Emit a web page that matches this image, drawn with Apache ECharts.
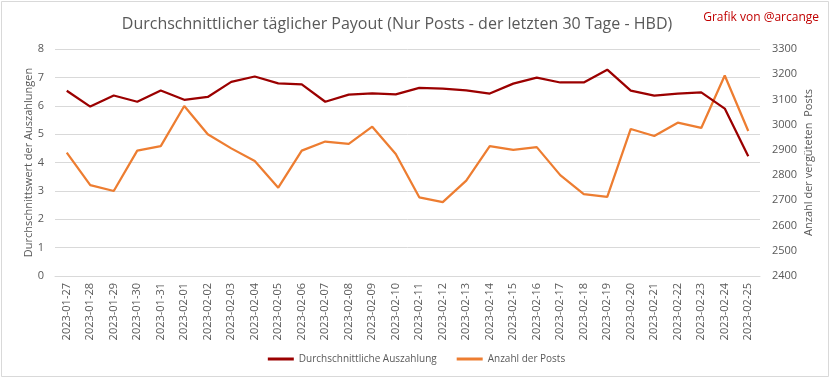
<!DOCTYPE html>
<html><head><meta charset="utf-8">
<script src="https://cdn.jsdelivr.net/npm/echarts@6/dist/echarts.min.js"></script>
<style>html,body{margin:0;padding:0;background:#fff}#c{width:833px;height:379px}</style>
</head><body><div id="c"></div>
<script>
const categories = ["2023-01-27","2023-01-28","2023-01-29","2023-01-30","2023-01-31","2023-02-01","2023-02-02","2023-02-03","2023-02-04","2023-02-05","2023-02-06","2023-02-07","2023-02-08","2023-02-09","2023-02-10","2023-02-11","2023-02-12","2023-02-13","2023-02-14","2023-02-15","2023-02-16","2023-02-17","2023-02-18","2023-02-19","2023-02-20","2023-02-21","2023-02-22","2023-02-23","2023-02-24","2023-02-25"];
const avgPayout = [6.53,5.97,6.36,6.14,6.54,6.21,6.31,6.84,7.03,6.79,6.75,6.14,6.39,6.44,6.40,6.63,6.60,6.54,6.43,6.78,6.99,6.82,6.82,7.27,6.53,6.36,6.43,6.47,5.90,4.22];
const postCount = [2889,2760,2737,2897,2915,3074,2962,2906,2856,2750,2897,2933,2924,2992,2884,2712,2693,2778,2915,2900,2911,2800,2725,2714,2983,2955,3008,2987,3195,2975];
const leftTicks = {min:0,max:8,interval:1};
const rightTicks = {min:2400,max:3300,interval:100};

const FONT = '"Open Sans", "Noto Sans", sans-serif';
const chart = echarts.init(document.getElementById('c'), null, {renderer:'canvas'});
chart.setOption({
  animation:false,
  backgroundColor:'#fff',
  textStyle:{fontFamily:FONT},
  title:[{
    text:'Durchschnittlicher täglicher Payout (Nur Posts - der letzten 30 Tage - HBD)',
    left:392, top:11, textAlign:'center',
    textStyle:{fontFamily:FONT,fontSize:16,fontWeight:'normal',color:'#595959'}
  },{
    text:'Grafik von @arcange',
    right:9, top:7,
    textStyle:{fontFamily:FONT,fontSize:12,fontWeight:'normal',color:'#c00000'}
  }],
  graphic:[{type:'rect',shape:{x:1.5,y:1.5,width:827,height:375},style:{fill:'none',stroke:'#d9d9d9',lineWidth:1},silent:true}],
  legend:{
    bottom:10, left:'center', itemGap:20, itemWidth:26, itemHeight:3, icon:'rect',
    textStyle:{fontFamily:FONT,fontSize:10,color:'#595959'},
    data:['Durchschnittliche Auszahlung','Anzahl der Posts']
  },
  grid:{left:55,right:73,top:49,bottom:103,containLabel:false},
  xAxis:{
    type:'category', data:categories, boundaryGap:true,
    axisLine:{show:true,lineStyle:{color:'#d9d9d9'}},
    axisTick:{show:false},
    axisLabel:{rotate:90,interval:0,fontSize:11,color:'#595959',margin:7,fontFamily:FONT}
  },
  yAxis:[{
    type:'value', min:leftTicks.min, max:leftTicks.max, interval:leftTicks.interval,
    name:'Durchschnittswert der Auszahlungen', nameLocation:'middle', nameGap:21, nameRotate:90,
    nameMoveOverlap:false,
    nameTextStyle:{fontSize:11,color:'#595959',fontFamily:FONT},
    axisLabel:{fontSize:11,color:'#595959',margin:11,fontFamily:FONT},
    axisLine:{show:false}, axisTick:{show:false},
    splitLine:{lineStyle:{color:'#d9d9d9',width:1}}
  },{
    type:'value', min:rightTicks.min, max:rightTicks.max, interval:rightTicks.interval,
    name:'Anzahl der vergüteten  Posts', nameLocation:'middle', nameGap:43, nameRotate:90,
    nameMoveOverlap:false,
    nameTextStyle:{fontSize:11,color:'#595959',fontFamily:FONT},
    axisLabel:{fontSize:11,color:'#595959',margin:12,fontFamily:FONT,formatter:function(v){return String(v);}},
    axisLine:{show:false}, axisTick:{show:false},
    splitLine:{show:false}
  }],
  series:[{
    name:'Durchschnittliche Auszahlung', type:'line', yAxisIndex:0, data:avgPayout,
    symbol:'none', lineStyle:{color:'#9b0000',width:2.25}, itemStyle:{color:'#9b0000'}, z:3
  },{
    name:'Anzahl der Posts', type:'line', yAxisIndex:1, data:postCount,
    symbol:'none', lineStyle:{color:'#ed7d31',width:2.25}, itemStyle:{color:'#ed7d31'}, z:2
  }]
});
</script></body></html>
